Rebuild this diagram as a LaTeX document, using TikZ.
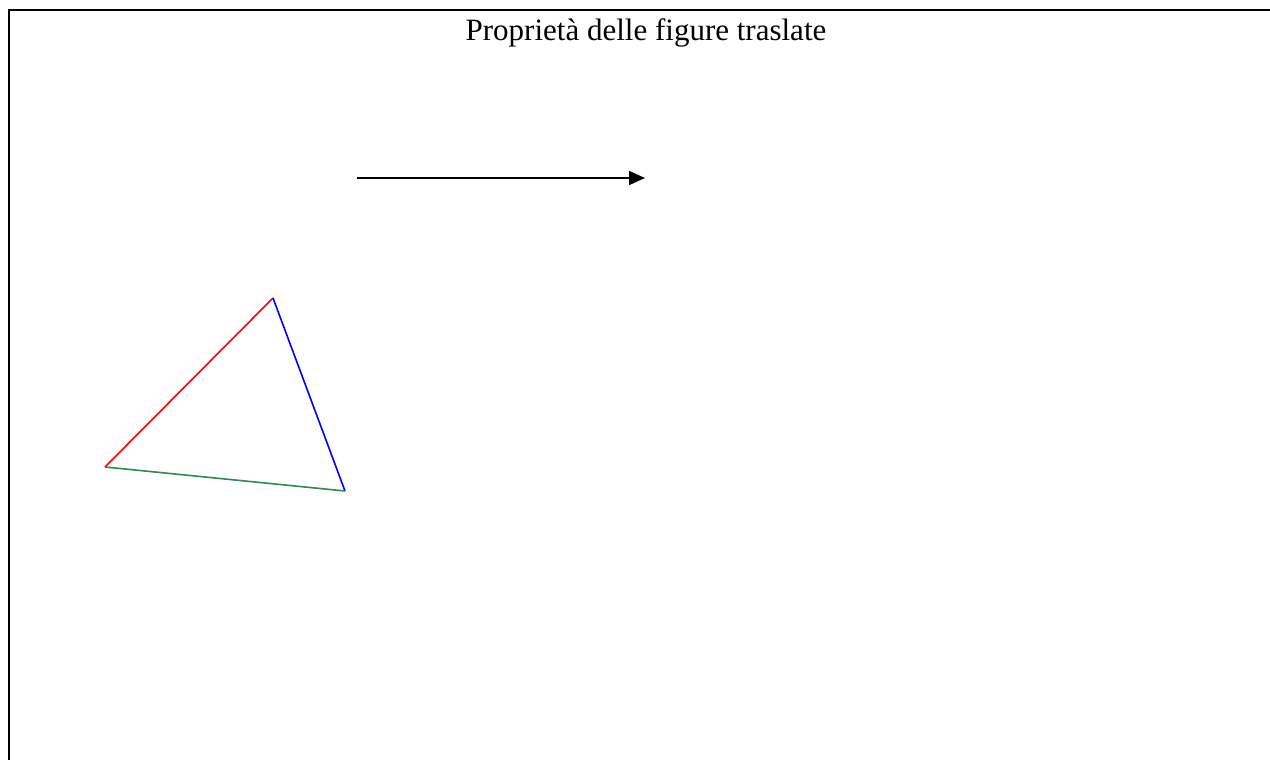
\documentclass[tikz,border=0pt]{standalone}
\usepackage{fontspec}
\setmainfont{Liberation Serif}
\usetikzlibrary{arrows.meta}
\definecolor{sidegreen}{RGB}{46,139,87}

\begin{document}
\begin{tikzpicture}[x=1pt, y=-1pt, every node/.style={font=\fontsize{31}{36}\selectfont}]
  \useasboundingbox (0,0) rectangle (1270,760);

  % Frame (top and left edges)
  \draw[line width=2.2pt] (9,760) -- (9,10) -- (1270,10);

  % Title
  \node[anchor=base] (title) at (646,41) {Proprietà delle figure traslate};

  % Translation vector
  \coordinate (vstart) at (357,178);
  \coordinate (vend) at (645,178);
  \draw[line width=1.8pt, -{Triangle[length=16pt, width=14pt]}] (vstart) -- (vend);

  % Triangle
  \coordinate (A) at (105,467);
  \coordinate (B) at (273,298);
  \coordinate (C) at (345,491);
  \draw[red, line width=1.6pt] (A) -- (B);
  \draw[blue, line width=1.6pt] (B) -- (C);
  \draw[sidegreen, line width=1.6pt] (C) -- (A);
\end{tikzpicture}
\end{document}
